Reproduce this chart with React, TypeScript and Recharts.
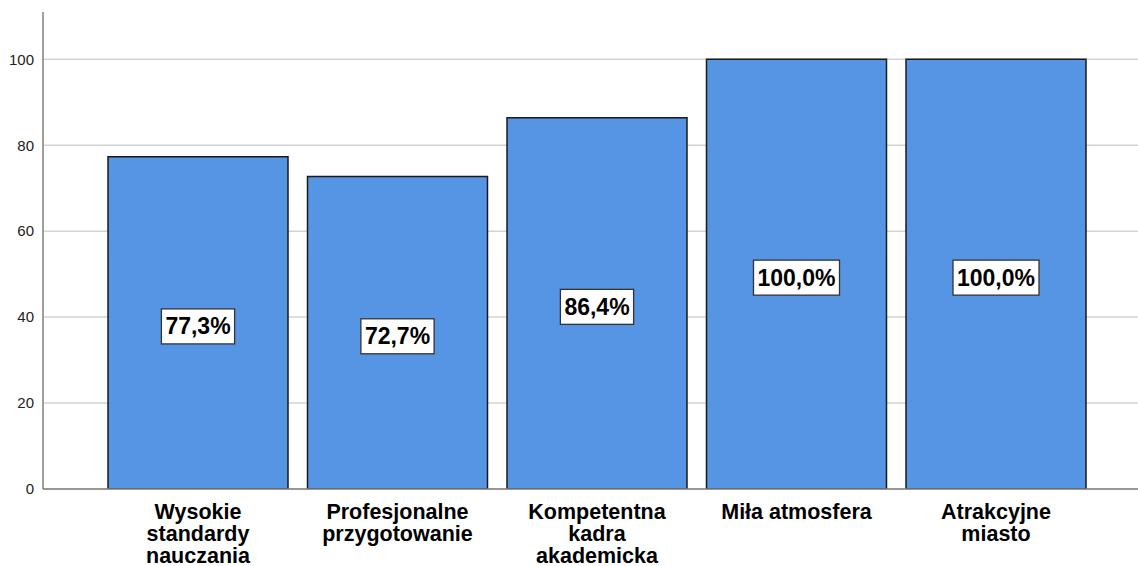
import React from 'react';
import { BarChart, Bar, XAxis, YAxis, CartesianGrid, LabelList } from 'recharts';

const categories: string[] = [
  'Wysokie\nstandardy\nnauczania',
  'Profesjonalne\nprzygotowanie',
  'Kompetentna\nkadra\nakademicka',
  'Miła atmosfera',
  'Atrakcyjne\nmiasto',
];
const values: number[] = [77.3, 72.7, 86.4, 100.0, 100.0];
const yTicks: number[] = [0, 20, 40, 60, 80, 100];
const yMax = 111;

const data = categories.map((c, i) => ({ name: c, value: values[i] }));

const FONT = '"Liberation Sans", Arial, sans-serif';

const fmt = (v: number) => v.toFixed(1).replace('.', ',') + '%';

const charW: Record<string, number> = { ',': 0.278, '%': 0.889 };
const textWidth = (s: string, size: number) =>
  s.split('').reduce((acc, ch) => acc + (charW[ch] ?? 0.556), 0) * size;

const ValueLabel = (props: any) => {
  const { x, y, width, height, value } = props;
  const txt = fmt(Number(value));
  const fs = 23;
  const w = textWidth(txt, fs) + 8;
  const h = 35;
  const cx = x + width / 2;
  const cy = y + height / 2 + 3.5;
  return (
    <g>
      <rect x={cx - w / 2} y={cy - h / 2} width={w} height={h} fill="#ffffff" stroke="#333333" strokeWidth={1.3} />
      <text x={cx} y={cy + 8} textAnchor="middle" fontFamily={FONT} fontWeight="bold" fontSize={fs} fill="#000000">
        {txt}
      </text>
    </g>
  );
};

const XTick = (props: any) => {
  const { x, y, payload } = props;
  const lines = String(payload.value).split('\n');
  return (
    <text x={x} y={y} textAnchor="middle" fontFamily={FONT} fontWeight="bold" fontSize={21.5} fill="#000000">
      {lines.map((l, i) => (
        <tspan key={i} x={x} dy={i === 0 ? 30 : 22}>
          {l}
        </tspan>
      ))}
    </text>
  );
};

const gridGen = (props: any) => {
  const scale = props?.yAxis?.scale;
  const out: number[] = [];
  for (const t of yTicks) {
    let v: any = undefined;
    try {
      if (typeof scale === 'function') v = scale(t);
      else if (scale && typeof scale.map === 'function') v = scale.map(t);
      else if (scale && typeof scale.scale === 'function') v = scale.scale(t);
    } catch (e) {
      v = undefined;
    }
    if (typeof v !== 'number' || isNaN(v)) {
      const off = props?.offset;
      if (off) v = off.top + off.height * (1 - t / yMax);
    }
    if (typeof v === 'number' && !isNaN(v)) out.push(v);
  }
  return out;
};

export default function App() {
  return (
    <div style={{ position: 'absolute', left: 0, top: 0, width: 1138, height: 566, background: '#ffffff' }}>
      <BarChart
        width={1138}
        height={566}
        data={data}
        margin={{ top: 12, right: 0, bottom: 0, left: 0 }}
        barCategoryGap={9.75}
      >
        <CartesianGrid
          horizontal
          vertical={false}
          stroke="#d3d3d3"
          strokeWidth={1.5}
          horizontalCoordinatesGenerator={gridGen}
        />
        <XAxis
          dataKey="name"
          height={77}
          interval={0}
          tickLine={false}
          tickSize={0}
          tickMargin={0}
          tick={<XTick />}
          axisLine={{ stroke: '#7f7f7f', strokeWidth: 1.5 }}
          padding={{ left: 55.25, right: 42.25 }}
        />
        <YAxis
          width={43}
          domain={[0, yMax]}
          ticks={yTicks}
          allowDataOverflow
          tickLine={false}
          tickSize={0}
          tickMargin={9}
          axisLine={{ stroke: '#7f7f7f', strokeWidth: 1.5 }}
          tick={{ fontFamily: FONT, fontSize: 15, fill: '#222222' }}
        />
        <Bar dataKey="value" fill="#5595e3" stroke="#1a1a1a" strokeWidth={1.5} isAnimationActive={false}>
          <LabelList dataKey="value" content={<ValueLabel />} />
        </Bar>
      </BarChart>
    </div>
  );
}
